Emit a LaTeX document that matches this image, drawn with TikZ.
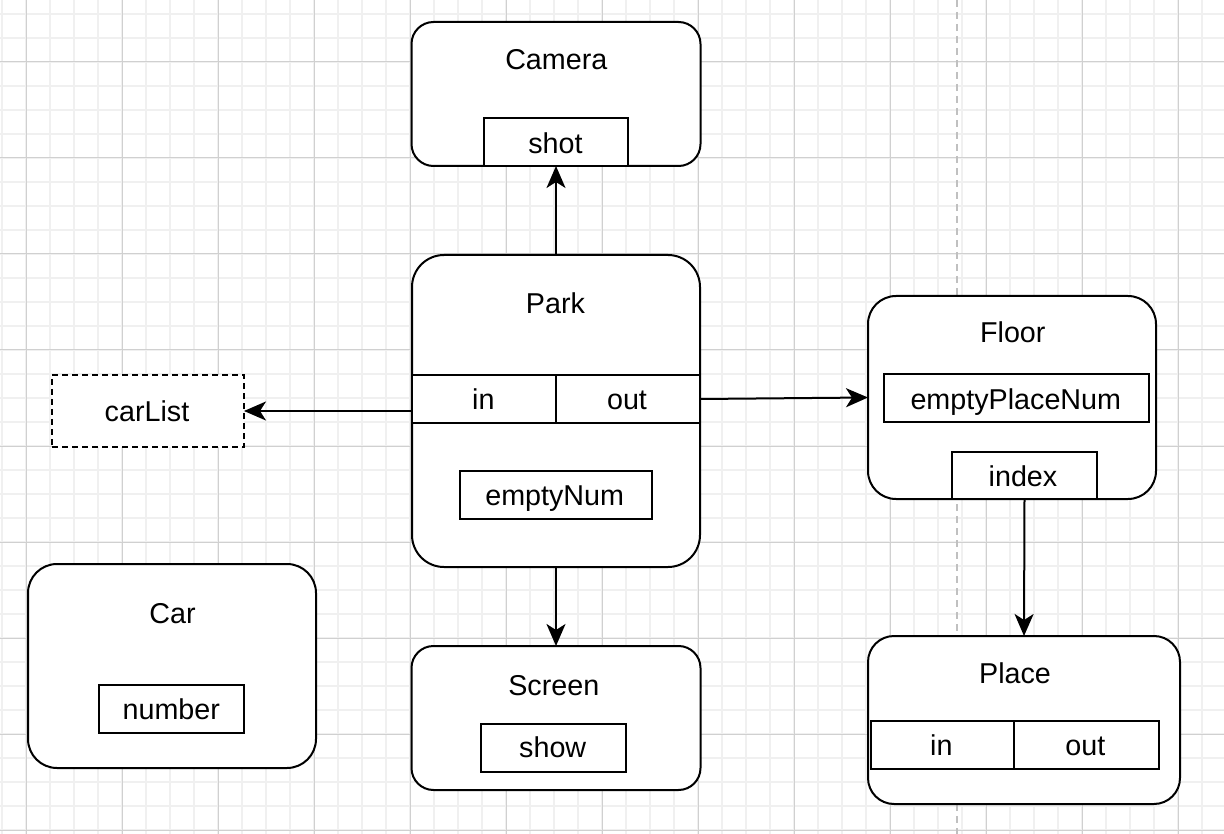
\documentclass[tikz,border=0pt]{standalone}
\usepackage{fontspec}
\setmainfont{Liberation Sans}
\usetikzlibrary{arrows.meta}
\definecolor{minorgrid}{RGB}{240,240,240}
\definecolor{majorgrid}{RGB}{208,208,208}
\definecolor{guide}{RGB}{192,192,192}
\begin{document}
\begin{tikzpicture}[x=1pt,y=-1pt,
  box/.style={draw=black,line width=2pt,fill=white,inner sep=0pt,outer sep=0pt},
  cls/.style={box,rounded corners=#1},
  field/.style={box},
  lbl/.style={anchor=base,inner sep=0pt,font=\fontsize{28.7}{34}\selectfont},
  arr/.style={line width=2pt,-{Stealth[length=22pt,width=19pt,inset=6pt]}}
]
\useasboundingbox (0,0) rectangle (1224,834);
\fill[white] (0,0) rectangle (1224,834);
% grid
\foreach \x in {2,26,...,1224} \draw[minorgrid,line width=1.3pt] (\x,0) -- (\x,834);
\foreach \y in {14,38,...,834} \draw[minorgrid,line width=1.3pt] (0,\y) -- (1224,\y);
\foreach \x in {26,122,...,1224} \draw[majorgrid,line width=1pt] (\x,0) -- (\x,834);
\foreach \y in {62,158,...,834} \draw[majorgrid,line width=1pt] (0,\y) -- (1224,\y);
\draw[guide,line width=2pt,dash pattern=on 7pt off 5pt] (957,0) -- (957,834);

% Camera
\node[cls=22pt,minimum width=289pt,minimum height=144pt] (camera) at (556,94) {};
\node[lbl] (tCamera) at (556.3,69.3) {Camera};
\node[field,minimum width=144pt,minimum height=48pt] (shot) at (556,142) {};
\node[lbl] (tShot) at (555.5,153.3) {shot};

% Park
\node[cls=32pt,minimum width=288pt,minimum height=312pt] (park) at (556,411) {};
\node[lbl] (tPark) at (555.5,314) {Park};
\node[field,minimum width=144pt,minimum height=48pt] (parkin) at (484,399) {};
\node[field,minimum width=144pt,minimum height=48pt] (parkout) at (628,399) {};
\node[lbl] (tParkIn) at (483.3,409.3) {in};
\node[lbl] (tParkOut) at (627,409.3) {out};
\node[field,minimum width=192pt,minimum height=48pt] (emptynum) at (556,495) {};
\node[lbl] (tEmptyNum) at (554.7,505) {emptyNum};

% carList
\node[box,dash pattern=on 6pt off 4pt,minimum width=192pt,minimum height=72pt] (carlist) at (148,411) {};
\node[lbl] (tCarList) at (147,421.7) {carList};

% Car
\node[cls=29pt,minimum width=288pt,minimum height=204pt] (car) at (172,666) {};
\node[lbl] (tCar) at (172.5,623.3) {Car};
\node[field,minimum width=145pt,minimum height=48pt] (number) at (171.5,708.5) {};
\node[lbl] (tNumber) at (171.3,719.3) {number};

% Screen
\node[cls=22pt,minimum width=289pt,minimum height=144pt] (screen) at (556,718) {};
\node[lbl] (tScreen) at (553.8,695.7) {Screen};
\node[field,minimum width=145pt,minimum height=48pt] (show) at (553.5,747.5) {};
\node[lbl] (tShow) at (552.7,757.3) {show};

% Floor
\node[cls=28pt,minimum width=288pt,minimum height=203pt] (floor) at (1012,397.5) {};
\node[lbl] (tFloor) at (1012.8,342.9) {Floor};
\node[field,minimum width=265pt,minimum height=48pt] (emptyplace) at (1016.5,398) {};
\node[lbl] (tEmptyPlace) at (1015.8,409.7) {emptyPlaceNum};
\node[field,minimum width=145pt,minimum height=47pt] (index) at (1024.5,475.5) {};
\node[lbl] (tIndex) at (1023,486) {index};

% Place
\node[cls=26pt,minimum width=312pt,minimum height=168pt] (place) at (1024,720) {};
\node[lbl] (tPlace) at (1015,683.2) {Place};
\node[field,minimum width=143pt,minimum height=48pt] (placein) at (942.5,745) {};
\node[field,minimum width=145pt,minimum height=48pt] (placeout) at (1086.5,745) {};
\node[lbl] (tPlaceIn) at (941.3,755.6) {in};
\node[lbl] (tPlaceOut) at (1085.3,755.6) {out};

% connectors
\draw[arr] (park.north) -- (camera.south);
\draw[arr] (park.west) -- (carlist.east);
\draw[arr] (parkout.east) -- (floor.west);
\draw[arr] (park.south) -- (screen.north);
\draw[arr] (index.south) -- (place.north);
\end{tikzpicture}
\end{document}
